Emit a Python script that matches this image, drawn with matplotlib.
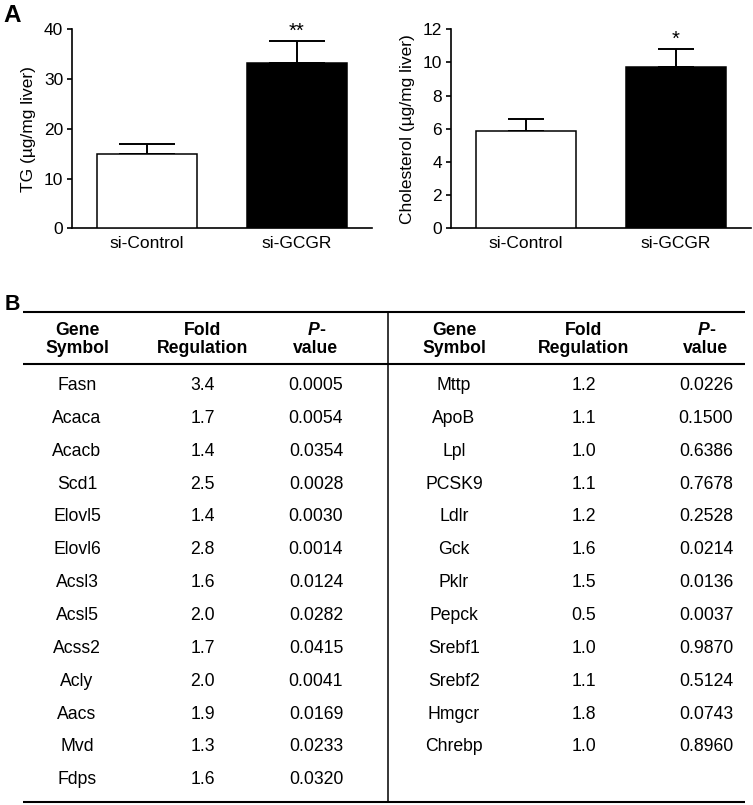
import numpy as np
import matplotlib.pyplot as plt

plt.rcParams['font.family'] = ['Liberation Sans', 'DejaVu Sans']

# Panel A: datos de las barras
grupos = ['si-Control', 'si-GCGR']
colores = ['white', 'black']
tg_media = [14.9, 33.3]
tg_error = [2.0, 4.3]
col_media = [5.88, 9.70]
col_error = [0.72, 1.13]
signif_tg = ['', '**']
signif_col = ['', '*']

# Panel B: tabla de genes
encabezados = [('Gene', 'Symbol'), ('Fold', 'Regulation'), ('P', 'value')]
genes_izq = ['Fasn', 'Acaca', 'Acacb', 'Scd1', 'Elovl5', 'Elovl6', 'Acsl3',
             'Acsl5', 'Acss2', 'Acly', 'Aacs', 'Mvd', 'Fdps']
fold_izq = [3.4, 1.7, 1.4, 2.5, 1.4, 2.8, 1.6, 2.0, 1.7, 2.0, 1.9, 1.3, 1.6]
p_izq = [0.0005, 0.0054, 0.0354, 0.0028, 0.0030, 0.0014, 0.0124,
         0.0282, 0.0415, 0.0041, 0.0169, 0.0233, 0.0320]
genes_der = ['Mttp', 'ApoB', 'Lpl', 'PCSK9', 'Ldlr', 'Gck', 'Pklr', 'Pepck',
             'Srebf1', 'Srebf2', 'Hmgcr', 'Chrebp']
fold_der = [1.2, 1.1, 1.0, 1.1, 1.2, 1.6, 1.5, 0.5, 1.0, 1.1, 1.8, 1.0]
p_der = [0.0226, 0.1500, 0.6386, 0.7678, 0.2528, 0.0214, 0.0136, 0.0037,
         0.9870, 0.5124, 0.0743, 0.8960]

W, H = 753, 805
fig = plt.figure(figsize=(W / 100, H / 100), dpi=100)

# Tabla en coordenadas de pixel
ax_t = fig.add_axes([0, 0, 1, 1])
ax_t.set_xlim(0, W)
ax_t.set_ylim(H, 0)
ax_t.axis('off')

fs_tab = 12.7
y_top, y_head, y_bot = 311.7, 364, 801.7
x_izq, x_der, x_div = 23, 745, 388.5
ax_t.hlines([y_top, y_head, y_bot], x_izq, x_der, color='black', lw=1.5)
ax_t.vlines(x_div, y_top, y_bot, color='black', lw=1.1)

cols_izq = [77, 202.5, 316]
cols_der = [454, 584, 706]
for cols in (cols_izq, cols_der):
    for (l1, l2), cx in zip(encabezados, cols):
        if l1 == 'P':
            ax_t.text(cx + 3, 335, 'P', ha='right', va='baseline', fontsize=fs_tab,
                      fontweight='bold', fontstyle='italic')
            ax_t.text(cx + 3, 335, '-', ha='left', va='baseline', fontsize=fs_tab,
                      fontweight='bold')
        else:
            ax_t.text(cx, 335, l1, ha='center', va='baseline', fontsize=fs_tab,
                      fontweight='bold')
        ax_t.text(cx, 353.3, l2, ha='center', va='baseline', fontsize=fs_tab,
                  fontweight='bold')

paso = 32.85
for cols, genes, folds, ps in ((cols_izq, genes_izq, fold_izq, p_izq),
                               (cols_der, genes_der, fold_der, p_der)):
    for i, (g, f, p) in enumerate(zip(genes, folds, ps)):
        yb = 390 + i * paso
        ax_t.text(cols[0], yb, g, ha='center', va='baseline', fontsize=fs_tab)
        ax_t.text(cols[1], yb, f"{f:.1f}", ha='center', va='baseline', fontsize=fs_tab)
        ax_t.text(cols[2], yb, f"{p:.4f}", ha='center', va='baseline', fontsize=fs_tab)

fig.text(3 / W, 1 - 22 / H, 'A', fontsize=17.5, fontweight='bold', va='baseline')
fig.text(5 / W, 1 - 310 / H, 'B', fontsize=15.5, fontweight='bold', va='baseline')


def graficar_barras(ax, media, error, signif, ylabel, ymax, paso_y, capsize):
    x = np.arange(len(grupos))
    ax.bar(x, media, width=0.665, color=colores, edgecolor='black', linewidth=1.1,
           zorder=3)
    ax.errorbar(x, media, yerr=[np.zeros(len(media)), error], fmt='none',
                ecolor='black', elinewidth=1.4, capsize=capsize, capthick=1.4,
                zorder=2)
    for xi, m, e, s in zip(x, media, error, signif):
        if s:
            ax.annotate(s, (xi, m + e), xytext=(0, 0), textcoords='offset points',
                        ha='center', va='bottom', fontsize=14.5)
    ax.set_xlim(-0.5, 1.5)
    ax.set_ylim(0, ymax)
    ax.set_yticks(np.arange(0, ymax + 0.01, paso_y))
    ax.set_xticks(x)
    ax.set_xticklabels(grupos)
    ax.set_ylabel(ylabel, fontsize=12.5)
    ax.yaxis.set_label_coords(-0.12, 0.5)
    for lado in ('top', 'right'):
        ax.spines[lado].set_visible(False)
    for lado in ('left', 'bottom'):
        ax.spines[lado].set_linewidth(1.2)
    ax.tick_params(axis='y', length=3.3, width=1.2, pad=3.2, labelsize=12.5)
    ax.tick_params(axis='x', length=0, pad=5.5, labelsize=12.5)
    ax.patch.set_visible(False)


alto = (228.3 - 29.3) / H
fondo = 1 - 228.3 / H
ax1 = fig.add_axes([72.3 / W, fondo, 299.4 / W, alto])
graficar_barras(ax1, tg_media, tg_error, signif_tg, 'TG (µg/mg liver)', 40, 10, 20)
ax2 = fig.add_axes([451 / W, fondo, 299.7 / W, alto])
graficar_barras(ax2, col_media, col_error, signif_col, 'Cholesterol (µg/mg liver)',
                12, 2, 13)

fig.savefig('out.png', dpi=100)
